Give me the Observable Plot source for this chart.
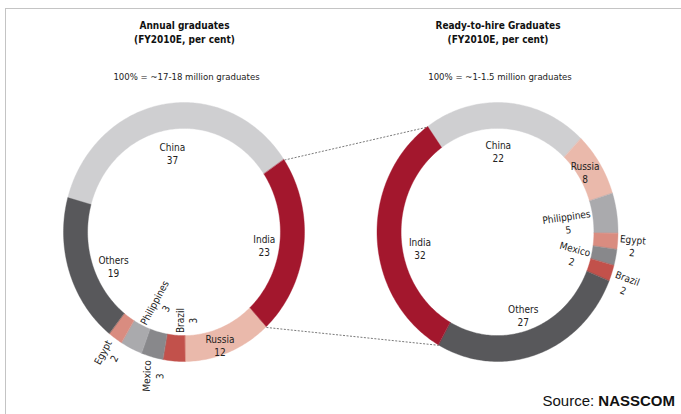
<!DOCTYPE html>
<html><head><meta charset="utf-8">
<script src="https://cdn.jsdelivr.net/npm/d3@7"></script>
<script src="https://cdn.jsdelivr.net/npm/@observablehq/plot@0.6"></script>
<style>
body{margin:0;background:#fff;}
#wrap{position:relative;width:681px;height:414px;overflow:hidden;background:#fff;}
#frame{position:absolute;left:5px;top:8px;width:700px;height:420px;border-top:1px solid #c4c4c4;border-left:1px solid #c4c4c4;}
#chart{position:absolute;left:0;top:0;}
#source{position:absolute;right:6px;top:392px;font:15px "Liberation Sans",Arial,sans-serif;color:#111;line-height:18px;}
</style></head><body>
<div id="wrap"><div id="frame"></div><div id="chart"></div><div id="source">Source: <b>NASSCOM</b></div></div>
<script>
// ---- data ----
const leftCountries = ["China","India","Russia","Brazil","Mexico","Philippines","Egypt","Others"];
const leftValues    = [37, 23, 12, 3, 3, 3, 2, 19];
const rightCountries = ["China","Russia","Philippines","Egypt","Mexico","Brazil","Others","India"];
const rightValues    = [22, 8, 5, 2, 2, 2, 27, 32];
const titles    = ["Annual graduates\n(FY2010E, per cent)", "Ready-to-hire Graduates\n(FY2010E, per cent)"];
const subtitles = ["100% = ~17-18 million graduates", "100% = ~1-1.5 million graduates"];
const colorDomain = ["China","India","Russia","Brazil","Mexico","Philippines","Egypt","Others"];
const colorRange  = ["#cfcfd1","#a3172d","#eab9ab","#c2514b","#88888b","#aaaaad","#d98c80","#58585b"];

// ---- layout ----
const W = 681, H = 414;
const RX = 120.5, RY = 129.5, CY = 232;
const centersPx = [184, 497.5];
const startAngles = [-74.6, -35.4];
const innerR = 0.8;
const u = px => (px - centersPx[0]) / RX;
const v = py => (CY - py) / RY;
const ringCx = centersPx.map(u);
// label placement: radius (fraction of outer), angle offset, rotation
const labelPlacement = [
  {China:[0.62,0,0], India:[0.67,2,0], Russia:[0.92,3,0], Brazil:[0.68,-6,-90],
   Mexico:[1.14,-2,-88], Philippines:[0.6,-6,-62], Egypt:[1.14,-1,-62], Others:[0.645,-6,0]},
  {China:[0.63,-4,0], Russia:[0.86,-1,0], Philippines:[0.58,1,-8], Egypt:[1.12,1,5],
   Mexico:[0.65,4,15], Brazil:[1.13,2,20], Others:[0.67,1,0], India:[0.66,-8,0]}
];

const rad = d => d * Math.PI / 180;
const pt = (ring, ang, r) => [ringCx[ring] + r * Math.sin(rad(ang)), r * Math.cos(rad(ang))];

function slices(countries, values, ring) {
  const total = d3.sum(values);
  let a = startAngles[ring];
  return countries.map((c, i) => {
    const span = values[i] / total * 360;
    const s = {ring, country: c, value: values[i], a0: a, a1: a + span, mid: a + span / 2};
    a += span;
    return s;
  });
}
const allSlices = [...slices(leftCountries, leftValues, 0), ...slices(rightCountries, rightValues, 1)];

const areaRows = [];
for (const s of allSlices) {
  const n = Math.max(2, Math.ceil(s.a1 - s.a0));
  for (let k = 0; k <= n; k++) {
    const ang = s.a0 + (s.a1 - s.a0) * k / n;
    const [ox, oy] = pt(s.ring, ang, 1);
    const [ix, iy] = pt(s.ring, ang, innerR);
    areaRows.push({key: s.ring + "-" + s.country, country: s.country, x1: ox, y1: oy, x2: ix, y2: iy});
  }
}

const labelRows = allSlices.map(s => {
  const [r, da, rot] = labelPlacement[s.ring][s.country];
  const [x, y] = pt(s.ring, s.mid + da, r);
  return {x, y, rot, text: s.country + "\n" + s.value};
});

// connectors between the India boundaries
const indL = allSlices.find(s => s.ring === 0 && s.country === "India");
const indR = allSlices.find(s => s.ring === 1 && s.country === "India");
const connectors = [
  [pt(0, indL.a0, 1), pt(1, indR.a1, 1)],
  [pt(0, indL.a1, 1), pt(1, indR.a0, 1)]
].map(([a, b]) => ({x1: a[0], y1: a[1], x2: b[0], y2: b[1]}));

const titleRows = titles.map((t, i) => ({x: ringCx[i], y: v(31), t}));
const subRows = subtitles.map((t, i) => ({x: ringCx[i] + u(186) - u(184) , y: v(76), t}));

const chart = Plot.plot({
  width: W, height: H, margin: 0,
  x: {domain: [u(0), u(W)], axis: null},
  y: {domain: [v(H), v(0)], axis: null},
  color: {domain: colorDomain, range: colorRange},
  style: {fontFamily: '"DejaVu Sans Condensed","DejaVu Sans",sans-serif', fontSize: "10px", color: "#222", background: "transparent"},
  marks: [
    Plot.link(connectors, {x1: "x1", y1: "y1", x2: "x2", y2: "y2", stroke: "#7a7a7a", strokeWidth: 1, strokeDasharray: "2,1.5"}),
    Plot.area(areaRows, {x1: "x1", y1: "y1", x2: "x2", y2: "y2", z: "key", fill: "country", stroke: "country", strokeWidth: 0.4}),
    Plot.text(labelRows, {x: "x", y: "y", text: "text", rotate: "rot", fill: "#222", fontSize: 10, lineHeight: 1.3}),
    Plot.text(titleRows, {x: "x", y: "y", text: "t", fill: "#111", fontSize: 10, fontWeight: "bold", lineHeight: 1.4}),
    Plot.text(subRows, {x: "x", y: "y", text: "t", fill: "#222", fontSize: 9.5})
  ]
});
document.getElementById("chart").appendChild(chart);
</script>
</body></html>
